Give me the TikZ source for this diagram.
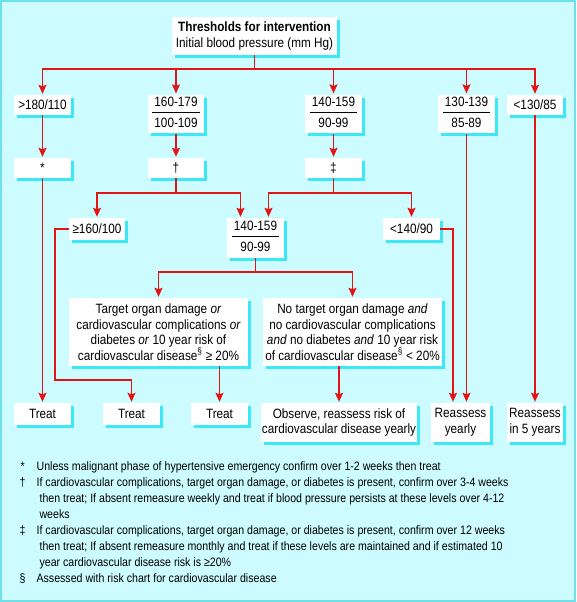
\documentclass[tikz,border=0pt]{standalone}
\usepackage{fontspec}
\setmainfont{Liberation Sans}[FakeStretch=0.87]
\usetikzlibrary{arrows.meta, shadows, calc}

\definecolor{bgcyan}{RGB}{204,252,255}
\definecolor{rimcyan}{RGB}{110,225,235}
\definecolor{shcyan}{RGB}{60,232,245}
\definecolor{flowred}{RGB}{228,20,20}

\setlength{\arrayrulewidth}{0.8pt}
\newcommand{\bprange}[2]{\begin{tabular}{@{\,}c@{\,}}\rule[-5.5pt]{0pt}{0pt}#1\\\hline\rule{0pt}{15pt}#2\end{tabular}}

\begin{document}
\begin{tikzpicture}[x=1pt, y=-1pt,
		box/.style={fill=white, inner sep=1pt, align=center, minimum height=20pt,
			font=\fontsize{13.5}{15.5}\selectfont,
			drop shadow={shadow xshift=3pt, shadow yshift=-3pt, fill=shcyan, opacity=1}},
		wire/.style={flowred, line width=1.5pt},
		arr/.style={wire, shorten >=1pt, -{Stealth[length=9pt, width=8pt, inset=1.5pt]}}]
				      \useasboundingbox (0,0) rectangle (576,602);
				      \fill[bgcyan] (0,0) rectangle (576,602);
				      \draw[rimcyan, line width=2pt] (1,1) rectangle (575,601);

				      \node[box, minimum width=165pt, minimum height=38pt] (title) at (254.5,36) {\textbf{Thresholds for intervention}\\Initial blood pressure (mm Hg)};

				      \node[box, minimum width=57pt] (hi) at (42.5,105) {>180/110};
				      \node[box, minimum width=56pt, minimum height=38pt] (s1) at (176,114) {\bprange{160-179}{100-109}};
				      \node[box, minimum width=57pt, minimum height=38pt] (s2) at (333.5,114) {\bprange{140-159}{90-99}};
				      \node[box, minimum width=57pt, minimum height=38pt] (hn) at (466.5,114) {\bprange{130-139}{85-89}};
				      \node[box, minimum width=56pt] (nm) at (535,105) {<130/85};

				      \node[box, minimum width=57pt] (star) at (42.5,168) {*};
				      \node[box, minimum width=56pt] (dag) at (176,168) {†};
				      \node[box, minimum width=57pt] (ddag) at (333.5,168) {‡};

				      \node[box, minimum width=56pt, minimum height=22pt] (ge) at (97,229) {≥160/100};
				      \node[box, minimum width=57pt, minimum height=40pt] (mid) at (255.5,238) {\bprange{140-159}{90-99}};
				      \node[box, minimum width=57pt, minimum height=22pt] (lt) at (411.5,229) {<140/90};

				      \node[box, minimum width=179pt, minimum height=68pt] (risk) at (158.5,332) {Target organ damage \emph{or}\\cardiovascular complications \emph{or}\\diabetes \emph{or} 10 year risk of\\cardiovascular disease\textsuperscript{§} ≥ 20\%};
				      \node[box, minimum width=179pt, minimum height=68pt] (norisk) at (352.5,332) {No target organ damage \emph{and}\\no cardiovascular complications\\\emph{and} no diabetes \emph{and} 10 year risk\\of cardiovascular disease\textsuperscript{§} < 20\%};

				      \node[box, minimum width=57pt, minimum height=22pt] (treat1) at (42.5,414) {Treat};
				      \node[box, minimum width=57pt, minimum height=22pt] (treat2) at (131.5,414) {Treat};
				      \node[box, minimum width=57pt, minimum height=22pt] (treat3) at (219.5,414) {Treat};
				      \node[box, minimum width=152pt, minimum height=39pt] (observe) at (339,422.5) {Observe, reassess risk of\\cardiovascular disease yearly};
				      \node[box, minimum width=59pt, minimum height=39pt] (reyear) at (460.5,422.5) {Reassess\\yearly};
				      \node[box, minimum width=56pt, minimum height=39pt] (refive) at (535,422.5) {Reassess\\in 5 years};

				      \coordinate (tb) at (254.5,69);
				      \coordinate (db) at (176,193);
				      \coordinate (ddb) at (333.5,193);
				      \coordinate (mb) at (255.5,272);
				      \coordinate (midl) at ($(mid.north)+(-15,0)$);
				      \coordinate (midr) at ($(mid.north)+(13,0)$);
				      \coordinate (gebend) at (55,380);
				      \coordinate (ryl) at ($(reyear.north)+(-7.5,0)$);
				      \coordinate (ryr) at ($(reyear.north)+(6,0)$);

				      \draw[wire] (title) -- (tb);
				      \draw[arr] (tb) -| (hi);
				      \draw[arr] (tb) -| (s1);
				      \draw[arr] (tb) -| (s2);
				      \draw[arr] (tb) -| (hn);
				      \draw[arr] (tb) -| (nm);

				      \draw[arr] (hi) -- (star);
				      \draw[arr] (s1) -- (dag);
				      \draw[arr] (s2) -- (ddag);
				      \draw[arr] (star) -- (treat1);

				      \draw[wire] (dag) -- (db);
				      \draw[arr] (db) -| (ge);
				      \draw[arr] (db) -| (midl);
				      \draw[wire] (ddag) -- (ddb);
				      \draw[arr] (ddb) -| (midr);
				      \draw[arr] (ddb) -| (lt);

				      \draw[wire] (mid) -- (mb);
				      \draw[arr] (mb) -| (risk);
				      \draw[arr] (mb) -| (norisk);

				      \draw[arr] (ge.west) -| (gebend) -| (treat2);
				      \draw[arr] (risk.south -| treat3) -- (treat3);
				      \draw[arr] (norisk.south -| observe) -- (observe);
				      \draw[arr] (lt.east) -| (ryl);
				      \draw[arr] (hn) -- (ryr);
				      \draw[arr] (nm) -- (refive);

				      \node[anchor=north west, inner sep=0pt, font=\fontsize{12.2}{16}\selectfont] (notes) at (19.5,459) {\begin{tabular}{@{}c@{\hspace{11pt}}l@{}}
				      * & Unless malignant phase of hypertensive emergency confirm over 1-2 weeks then treat\\
				      † & If cardiovascular complications, target organ damage, or diabetes is present, confirm over 3-4 weeks\\
				      & \ then treat; If absent remeasure weekly and treat if blood pressure persists at these levels over 4-12\\
				      & \ weeks\\
				      ‡ & If cardiovascular complications, target organ damage, or diabetes is present, confirm over 12 weeks\\
				      & \ then treat; If absent remeasure monthly and treat if these levels are maintained and if estimated 10\\
				      & \ year cardiovascular disease risk is ≥20\%\\
				      § & Assessed with risk chart for cardiovascular disease
				      \end{tabular}};
			      \end{tikzpicture}
\end{document}
